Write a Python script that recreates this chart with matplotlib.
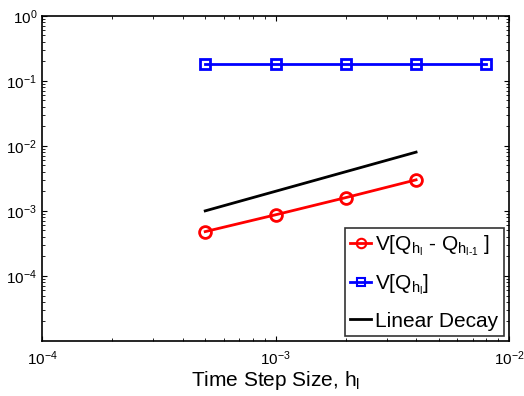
import matplotlib
matplotlib.use("Agg")
import matplotlib.pyplot as plt

plt.rcParams['font.family'] = ['Liberation Sans', 'DejaVu Sans']
plt.rcParams['mathtext.fontset'] = 'custom'
plt.rcParams['mathtext.rm'] = 'Liberation Sans'
plt.rcParams['mathtext.it'] = 'Liberation Sans'
plt.rcParams['mathtext.default'] = 'regular'
plt.rcParams['axes.unicode_minus'] = False

h_diff = [5e-4, 1e-3, 2e-3, 4e-3]
v_diff = [4.8e-4, 8.7e-4, 1.6e-3, 3.0e-3]
h_all = [5e-4, 1e-3, 2e-3, 4e-3, 8e-3]
v_all = [0.181, 0.181, 0.181, 0.181, 0.181]
h_lin = [5e-4, 1e-3, 2e-3, 4e-3]
v_lin = [1e-3, 2e-3, 4e-3, 8e-3]

fig = plt.figure(figsize=(5.24, 3.96), dpi=100)
ax = fig.add_axes([42/524, 1-341/396, (509-42)/524, (341-15.7)/396])

ax.plot(h_diff, v_diff, '-o', color='red', lw=2, ms=8.5, mfc='none', mew=2,
        label=r'V[Q$_{h_{l}}$ - Q$_{h_{l\text{-}1}}$ ]')
ax.plot(h_all, v_all, '-s', color='blue', lw=2, ms=6.5, mfc='none', mew=2,
        label=r'V[Q$_{h_{l}}$]')
ax.plot(h_lin, v_lin, '-', color='black', lw=2, label='Linear Decay')

ax.set_xscale('log')
ax.set_yscale('log')
ax.set_xlim(1e-4, 1e-2)
ax.set_ylim(1e-5, 1)
ax.tick_params(which='both', direction='in', top=True, right=True, labelsize=11)
ax.tick_params(axis='x', pad=6)
for s in ax.spines.values():
    s.set_linewidth(1.2)
ax.set_yticks([1e-4, 1e-3, 1e-2, 1e-1, 1])
ax.set_xlabel(r'Time Step Size, h$_l$', fontsize=15, labelpad=1)

leg = ax.legend(loc='lower right', fontsize=15, frameon=True, fancybox=False,
                edgecolor='black', handlelength=1.0, handletextpad=0.2,
                borderaxespad=0.25, labelspacing=0.7, borderpad=0.25,
                markerscale=0.8)
leg.get_frame().set_linewidth(1.2)
for lh in leg.get_lines():
    lh.set_markeredgewidth(1.5)

fig.savefig('out.png', dpi=100)
